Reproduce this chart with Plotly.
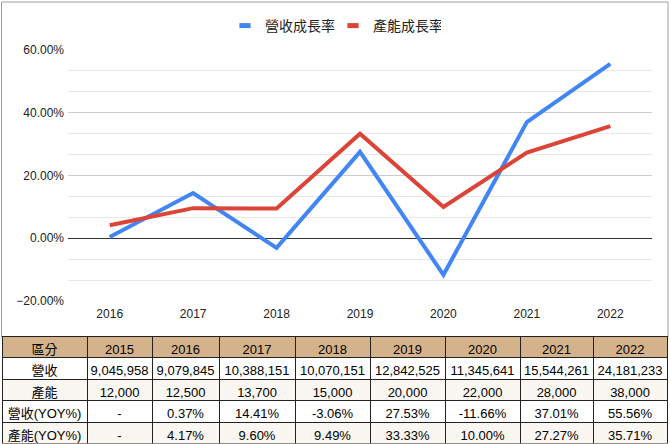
import plotly.graph_objects as go

# ---- data ----
table_years = ["2015", "2016", "2017", "2018", "2019", "2020", "2021", "2022"]
revenue = [9045958, 9079845, 10388151, 10070151, 12842525, 11345641, 15544261, 24181233]
capacity = [12000, 12500, 13700, 15000, 20000, 22000, 28000, 38000]
revenue_yoy = [None, 0.37, 14.41, -3.06, 27.53, -11.66, 37.01, 55.56]
capacity_yoy = [None, 4.17, 9.60, 9.49, 33.33, 10.00, 27.27, 35.71]
row_labels = ["營收", "產能", "營收(YOY%)", "產能(YOY%)"]
header_first = "區分"
series_names = ["營收成長率", "產能成長率"]

chart_years = table_years[1:]
rev_growth = [v / 100 for v in revenue_yoy[1:]]
cap_growth = [v / 100 for v in capacity_yoy[1:]]

BLUE = "#4285F4"
RED = "#DB4437"
FONT = "Liberation Sans, Arial, Noto Sans CJK TC, sans-serif"

W, H = 670, 444

fig = go.Figure()
fig.add_trace(go.Scatter(x=chart_years, y=rev_growth, mode="lines", name=series_names[0],
                         line=dict(color=BLUE, width=4), showlegend=False))
fig.add_trace(go.Scatter(x=chart_years, y=cap_growth, mode="lines", name=series_names[1],
                         line=dict(color=RED, width=4), showlegend=False))
# legend swatches
for name, col in zip(series_names, [BLUE, RED]):
    fig.add_trace(go.Scatter(x=[None], y=[None], mode="markers", name=name,
                             marker=dict(symbol="line-ew", size=8,
                                         line=dict(color=col, width=5))))

def fmt_num(v):
    return f"{v:,}"

def fmt_pct(v):
    return "-" if v is None else f"{v:.2f}%"

cols = [row_labels]
for i in range(len(table_years)):
    cols.append([fmt_num(revenue[i]), fmt_num(capacity[i]),
                 fmt_pct(revenue_yoy[i]), fmt_pct(capacity_yoy[i])])

row_fill = ["#FFFFFF", "#FAF7F2", "#FFFFFF", "#FAF7F2"]
fig.add_trace(go.Table(
    domain=dict(x=[2 / W, 667 / W], y=[0, 1 - 336.5 / H]),
    columnwidth=[85, 65, 67, 76, 75, 75, 75, 73, 74],
    header=dict(values=[header_first] + table_years,
                fill_color="#D4B38C", line=dict(color="#222222", width=1),
                font=dict(family=FONT, size=13, color="#000000"),
                align="center", height=21),
    cells=dict(values=cols,
               fill_color=[row_fill] * (len(table_years) + 1),
               line=dict(color="#222222", width=1),
               font=dict(family=FONT, size=13, color="#000000"),
               align="center", height=21.5),
))

fig.update_layout(
    width=W, height=H,
    margin=dict(l=0, r=0, t=0, b=0),
    paper_bgcolor="white", plot_bgcolor="white",
    font=dict(family=FONT, color="#222222"),
    legend=dict(orientation="h", x=0.497, xanchor="center", y=1 - 26 / H, yanchor="middle",
                font=dict(size=14, color="#222222"), itemsizing="trace",
                entrywidth=63, entrywidthmode="pixels"),
    xaxis=dict(domain=[68 / W, 652 / W], type="category", range=[-0.5, 6.5],
               showgrid=False, zeroline=False, showline=False, ticks="",
               ticklabelstandoff=4,
               tickfont=dict(size=12, color="#222222")),
    yaxis=dict(domain=[1 - 301 / H, 1 - 50 / H], range=[-0.2, 0.6],
               tick0=0, dtick=0.2, tickformat=".2%",
               showgrid=True, gridcolor="#CCCCCC", gridwidth=1,
               minor=dict(dtick=0.2 / 3, tick0=0, showgrid=True, gridcolor="#E8E8E8", gridwidth=1),
               zeroline=True, zerolinecolor="#333333", zerolinewidth=1,
               showline=False, ticks="", automargin=False, ticklabelstandoff=3,
               tickfont=dict(size=12, color="#222222")),
    shapes=[dict(type="rect", xref="paper", yref="paper",
                 x0=1.5 / W, x1=668 / W, y0=1 - 337 / H, y1=1 - 2 / H,
                 line=dict(color="#9E9E9E", width=1), layer="below")],
)

fig.write_html("out.html", config={"displayModeBar": False},
               post_script="document.body.style.margin='0';document.body.style.overflow='hidden';")
